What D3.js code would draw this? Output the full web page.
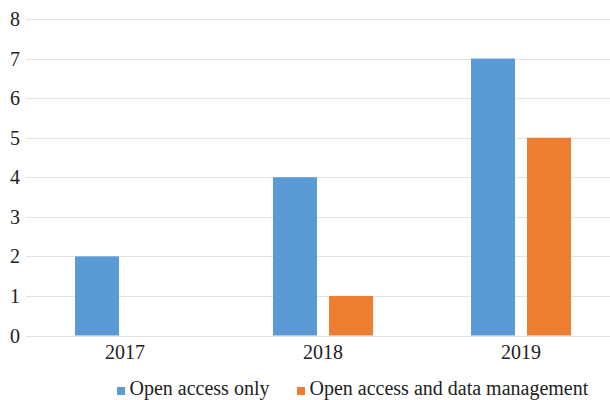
<!DOCTYPE html>
<html><head><meta charset="utf-8">
<script src="https://cdn.jsdelivr.net/npm/d3@7"></script>
<style>html,body{margin:0;padding:0;background:#fff;overflow:hidden}
svg text{font-family:"Liberation Serif","Times New Roman",Times,"DejaVu Serif","Noto Serif",serif !important;}
</style>
</head><body>
<script>
const categories = ["2017", "2018", "2019"];
const seriesNames = ["Open access only", "Open access and data management"];
const openAccessOnly = [2, 4, 7];
const openAccessAndDM = [0, 1, 5];
const yTicks = [0, 1, 2, 3, 4, 5, 6, 7, 8];
const colors = ["#5B9BD5", "#ED7D31"];

const W = 610, H = 400;
const FONT = '"Liberation Serif","Times New Roman",Times,"DejaVu Serif",serif';
const svg = d3.select("body").append("svg").attr("width", W).attr("height", H);

const x = d3.scaleBand().domain(categories).range([26, 620]).paddingInner(0).paddingOuter(0);
const y = d3.scaleLinear().domain([0, 8]).range([335.5, 19]);

// gridlines
svg.append("g").selectAll("line").data(yTicks).join("line")
  .attr("x1", 26).attr("x2", W)
  .attr("y1", d => Math.round(y(d)) + 0.5).attr("y2", d => Math.round(y(d)) + 0.5)
  .attr("stroke", "#e3e3e3").attr("stroke-width", 1);

// y axis labels
const yAxis = d3.axisLeft(y).tickValues(yTicks).tickSize(0).tickPadding(0);
const gy = svg.append("g").attr("transform", "translate(20,0)").call(yAxis)
  .attr("font-family", FONT).attr("font-size", 20);
gy.select(".domain").remove();
gy.selectAll("text").attr("fill", "#222").attr("dy", "0.33em");

// x axis labels
const xAxis = d3.axisBottom(x).tickSize(0).tickPadding(0);
const gx = svg.append("g").attr("transform", "translate(0,345)").call(xAxis)
  .attr("font-family", FONT).attr("font-size", 20);
gx.select(".domain").remove();
gx.selectAll("text").attr("fill", "#222").attr("dy", "0.72em");

// bars
const series = [openAccessOnly, openAccessAndDM];
const groupW = 100;
const barW = 44;
series.forEach((vals, si) => {
  svg.append("g").selectAll("rect").data(vals.map((v, i) => ({v, c: categories[i]})).filter(d => d.v > 0))
    .join("rect")
    .attr("x", d => x(d.c) + x.bandwidth() / 2 - groupW / 2 + (si === 0 ? 0 : groupW - barW))
    .attr("width", barW)
    .attr("y", d => y(d.v))
    .attr("height", d => y(0) - y(d.v))
    .attr("fill", colors[si]);
});

// legend
const legendItems = [{name: seriesNames[0], x: 117, c: colors[0]}, {name: seriesNames[1], x: 297, c: colors[1]}];
const lg = svg.append("g").attr("font-family", FONT).attr("font-size", 20);
legendItems.forEach(it => {
  lg.append("rect").attr("x", it.x).attr("y", 387).attr("width", 8).attr("height", 8).attr("fill", it.c);
  lg.append("text").attr("x", it.x + 12.5).attr("y", 395).attr("fill", "#222")
    .text(it.name);
});
</script>
</body></html>
